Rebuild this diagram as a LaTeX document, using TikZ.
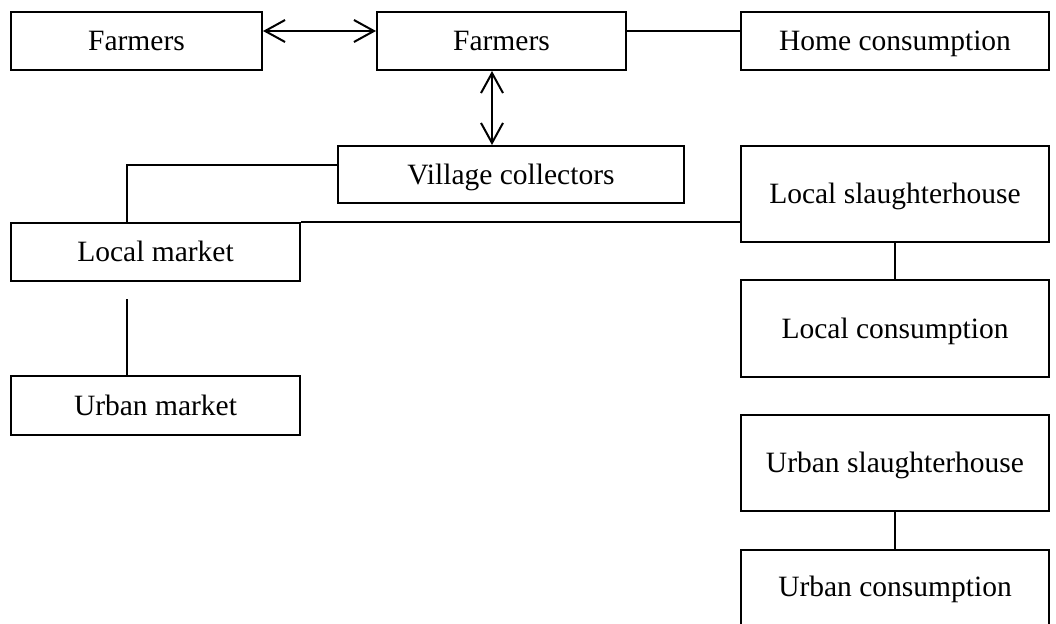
\documentclass[tikz,border=0pt]{standalone}
\usepackage{fontspec}
\setmainfont{Liberation Serif}
\usetikzlibrary{arrows.meta}
\begin{document}
\begin{tikzpicture}[x=1pt,y=-1pt,
  box/.style={draw, line width=2pt, inner sep=0pt, text height=22pt, text depth=3pt,
    font=\fontsize{29.5}{34}\selectfont},
  wide/.style={box, minimum width=308pt},
  link/.style={line width=2pt},
  twoway/.style={link, {Straight Barb[length=20pt,width=22pt,line width=2pt]}-{Straight Barb[length=20pt,width=22pt,line width=2pt]}}
]
\useasboundingbox (0,0) rectangle (1056,623);
\fill[white] (0,0) rectangle (1056,623);
\clip (0,0) rectangle (1056,623);

% top row
\node[box, minimum width=251pt, minimum height=58pt] (f1) at (136.5,41) {Farmers};
\node[box, minimum width=249pt, minimum height=58pt] (f2) at (501.5,41) {Farmers};
\node[wide, minimum height=58pt] (home) at (895,41) {Home consumption};

% collectors and markets
\node[box, minimum width=346pt, minimum height=57pt] (vc) at (511,174.5) {Village collectors};
\node[box, minimum width=289pt, minimum height=58pt] (lm) at (155.5,252) {Local market};
\node[box, minimum width=289pt, minimum height=59pt] (um) at (155.5,405.5) {Urban market};

% slaughter and consumption column
\node[wide, minimum height=96pt] (ls) at (895,194) {Local slaughterhouse};
\node[wide, minimum height=97pt] (lc) at (895,328.5) {Local consumption};
\node[wide, minimum height=96pt] (us) at (895,463) {Urban slaughterhouse};
\node[wide, minimum height=84pt] (uc) at (895,592) {\raisebox{5pt}{Urban consumption}};

% guide coordinates
\coordinate (ax) at (492,0);
\coordinate (lx) at (127,0);
\coordinate (lmgap) at (127,299);

% connectors
\draw[twoway] ([yshift=10pt]f1.east) -- ([yshift=10pt]f2.west);
\draw[link] ([yshift=10pt]f2.east) -- ([yshift=10pt]home.west);
\draw[twoway] (f2.south -| ax) -- (vc.north -| ax);
\draw[link] ([yshift=9.5pt]vc.west) -| (lm.north -| lx);
\draw[link] (lm.north east) -- (lm.north east -| ls.west);
\draw[link] (ls.south) -- (lc.north);
\draw[link] (lmgap) -- (um.north -| lmgap);
\draw[link] (us.south) -- (uc.north);
\end{tikzpicture}
\end{document}
